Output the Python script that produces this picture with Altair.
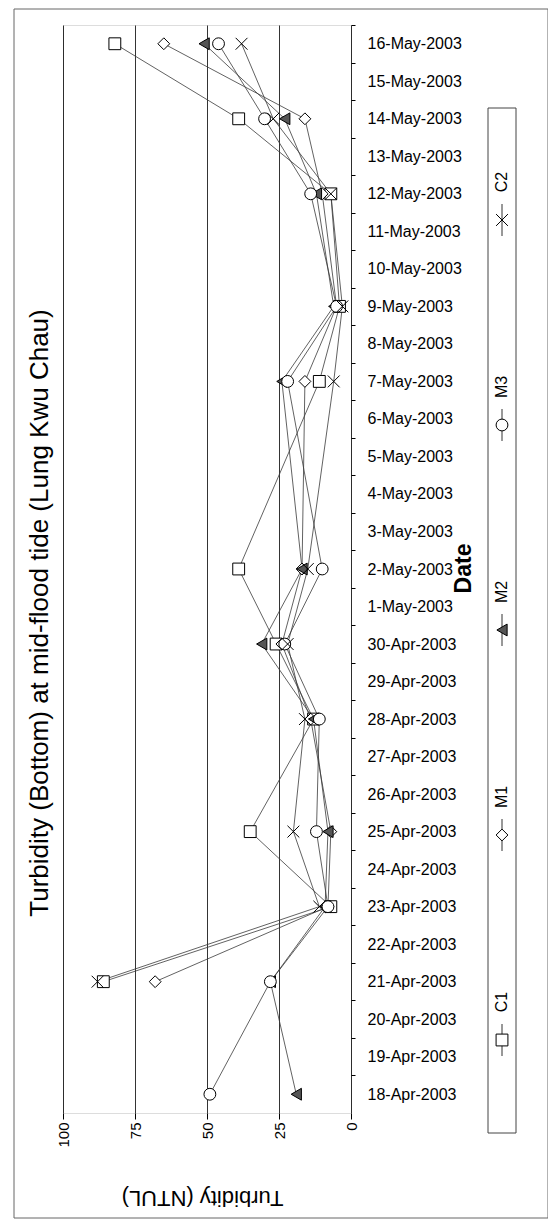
import altair as alt
import pandas as pd

# ---------------- data ----------------
all_dates = [d.strftime("%-d-%b-%Y") for d in pd.date_range("2003-04-18", "2003-05-16")]
sample_dates = ["18-Apr-2003", "21-Apr-2003", "23-Apr-2003", "25-Apr-2003", "28-Apr-2003",
                "30-Apr-2003", "2-May-2003", "7-May-2003", "9-May-2003", "12-May-2003",
                "14-May-2003", "16-May-2003"]
series_names = ["C1", "M1", "M2", "M3", "C2"]
C1 = [None, 86, 7, 35, 13, 26, 39, 11, 4, 7, 39, 82]
M1 = [None, 68, 8, 7, 14, 24, 17, 16, 5, 10, 16, 65]
M2 = [19, 28, 9, 8, 13, 31, 17, 24, 6, 12, 23, 51]
M3 = [49, 28, 8, 12, 11, 23, 10, 22, 5, 14, 30, 46]
C2 = [None, 88, 11, 20, 16, 22, 15, 6, 3, 7, 27, 38]
values = {"C1": C1, "M1": M1, "M2": M2, "M3": M3, "C2": C2}

title_text = "Turbidity (Bottom) at mid-flood tide (Lung Kwu Chau)"
x_title = "Turbidity (NTUL)"
y_title = "Date"
x_ticks = [0, 25, 50, 75, 100]

rows = []
for s in series_names:
    for d, v in zip(sample_dates, values[s]):
        if v is not None:
            rows.append({"series": s, "date": d, "value": v})
df = pd.DataFrame(rows)

shape_range = ["square", "diamond", "triangle-left", "circle", "M-1,-1L1,1M-1,1L1,-1"]
fill_range = ["white", "white", "#555555", "white", "white"]

W, H = 288, 1088
FONT = "Liberation Sans"
HALF_STEP = H / len(all_dates) / 2

yscale = alt.Scale(domain=all_dates[::-1], type="point", padding=0.5)
xscale = alt.Scale(domain=[0, 100], reverse=True)
shape_enc = alt.Shape("series:N", scale=alt.Scale(domain=series_names, range=shape_range), legend=None)
fill_enc = alt.Fill("series:N", scale=alt.Scale(domain=series_names, range=fill_range), legend=None)

base = alt.Chart(df)

lines = base.mark_line(color="#3a3a3a", strokeWidth=0.8).encode(
    x=alt.X("value:Q", scale=xscale,
            axis=alt.Axis(values=x_ticks, labelAngle=270, labelFontSize=15, labelColor="black",
                          tickSize=6, tickColor="black", domain=False,
                          grid=True, gridColor="black", gridWidth=0.8,
                          labelPadding=3, title=x_title, titleAngle=180, titleFontSize=22,
                          titleFontWeight="normal", titleColor="black",
                          titleX=139, titleY=84, titleAlign="center", titleBaseline="middle")),
    y=alt.Y("date:N", scale=yscale,
            axis=alt.Axis(orient="right", labelFontSize=16, labelColor="black",
                          ticks=True, tickSize=4, tickColor="black",
                          tickOffset=-HALF_STEP, labelOffset=HALF_STEP,
                          domain=False, grid=False, labelPadding=12, title=y_title,
                          titleAngle=270, titleFontSize=23, titleFontWeight="bold",
                          titleColor="black", titleX=112, titleY=543,
                          titleAlign="center", titleBaseline="middle")),
    detail="series:N",
)

points = base.mark_point(size=140, stroke="black", strokeWidth=1, opacity=1, filled=False).encode(
    x=alt.X("value:Q", scale=xscale),
    y=alt.Y("date:N", scale=yscale, axis=None),
    shape=shape_enc,
    fill=fill_enc,
)

# ----- legend (drawn as rotated items) -----
leg_df = pd.DataFrame({"series": series_names})
leg_order = ["C2", "M3", "M2", "M1", "C1"]
leg_scale = alt.Scale(domain=leg_order, type="point", range=[195, 1015], padding=0)
leg_base = alt.Chart(leg_df)

leg_box = alt.Chart(pd.DataFrame({"k": [0]})).mark_rect(fill=None, stroke="#444444", strokeWidth=1).encode(
    x=alt.value(425), x2=alt.value(453), y=alt.value(83), y2=alt.value(1108))
leg_rule = leg_base.mark_rule(color="#333333", strokeWidth=1, yOffset=-16, y2Offset=16).encode(
    x=alt.value(439),
    y=alt.Y("series:N", scale=leg_scale, axis=None),
    y2="series:N",
)
leg_pts = leg_base.mark_point(size=140, stroke="black", strokeWidth=1, opacity=1).encode(
    x=alt.value(439),
    y=alt.Y("series:N", scale=leg_scale, axis=None),
    shape=shape_enc,
    fill=fill_enc,
)
leg_txt = leg_base.mark_text(angle=270, align="center", baseline="middle", fontSize=16,
                             yOffset=-38, font=FONT, color="black").encode(
    x=alt.value(439),
    y=alt.Y("series:N", scale=leg_scale, axis=None),
    text="series:N",
)

# ----- chart title and outer frame -----
title_mark = alt.Chart(pd.DataFrame({"t": [title_text]})).mark_text(
    angle=270, align="center", baseline="middle", fontSize=26, font=FONT, color="black").encode(
    x=alt.value(-23), y=alt.value(588), text="t:N")

frame = alt.Chart(pd.DataFrame({"k": [0]})).mark_rect(fill=None, stroke="#666666", strokeWidth=1).encode(
    x=alt.value(-49), x2=alt.value(485), y=alt.value(-16), y2=alt.value(1193))

chart = alt.layer(
    frame, lines, points, leg_box, leg_rule, leg_pts, leg_txt, title_mark
).resolve_scale(
    y="independent"
).properties(
    width=W, height=H,
    autosize=alt.AutoSizeParams(type="none"),
    padding={"left": 55, "top": 17, "right": 197, "bottom": 107},
).configure_view(
    stroke="black", strokeWidth=1.5, fill="white"
).configure(
    font=FONT, background="white"
)

chart.save("out.html", embed_options={"renderer": "svg", "actions": False})
